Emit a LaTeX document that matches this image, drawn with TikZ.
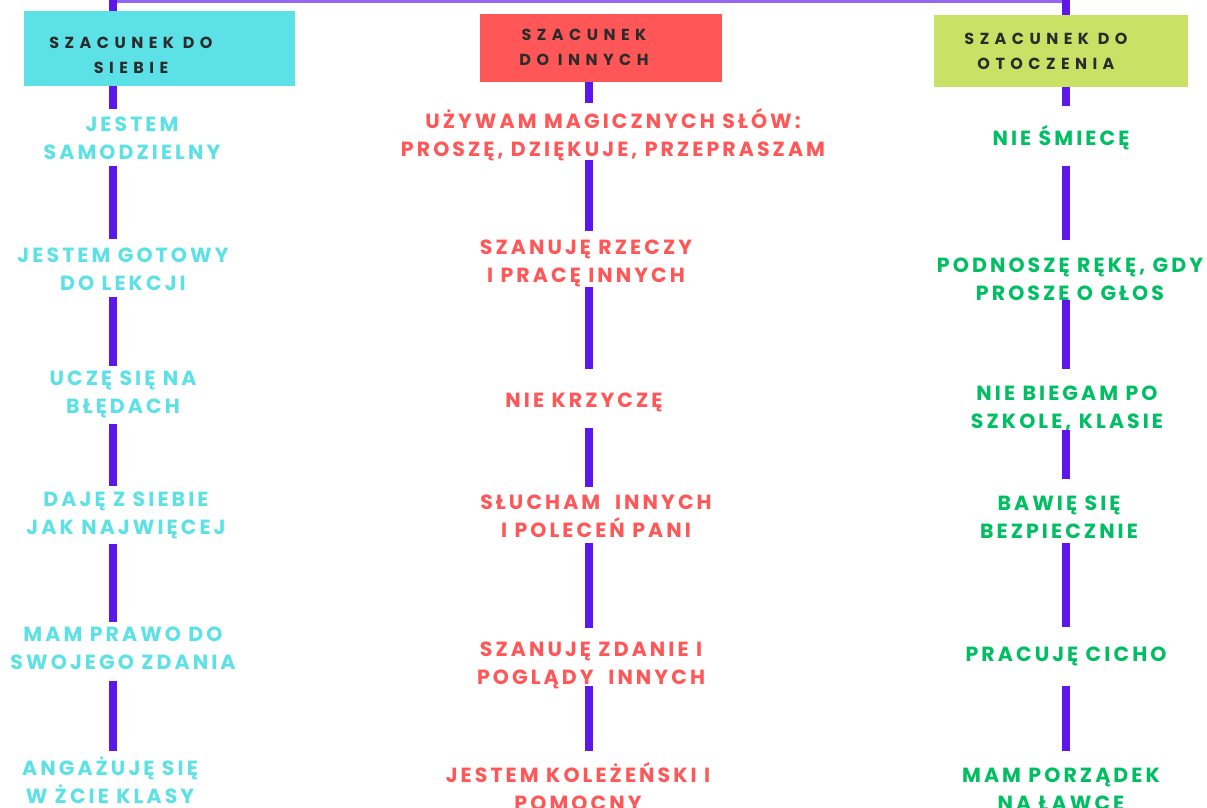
\documentclass[tikz,border=0pt]{standalone}
\usepackage{fontspec}
\newfontfamily\itemfont[LetterSpace=15]{Poppins}
\newfontfamily\boxfont[LetterSpace=34]{Poppins}
\newcommand\oneline[1]{\smash{#1}}
\definecolor{cy}{HTML}{5CE1E6}
\definecolor{rd}{HTML}{FF5757}
\definecolor{gn}{HTML}{00BF63}
\definecolor{lime}{HTML}{C9E265}
\definecolor{vio}{HTML}{5E17EB}
\definecolor{viol}{HTML}{9566F0}
\definecolor{ink}{HTML}{2B2B2B}
\tikzset{
  seg/.style={line width=7.5pt, draw=vio},
  topline/.style={line width=3pt, draw=viol},
  box/.style={rectangle, inner sep=0pt, draw=none},
  boxlabel/.style={align=center, inner sep=0pt, text=ink, font=\boxfont\bfseries\fontsize{16}{25}\selectfont},
  item/.style={align=center, inner sep=0pt, font=\itemfont\bfseries\fontsize{20.5}{28}\selectfont},
  itemL/.style={item, text=cy},
  itemM/.style={item, text=rd},
  itemR/.style={item, text=gn},
}
\begin{document}
\begin{tikzpicture}[x=1pt,y=-1pt]
\useasboundingbox (0,0) rectangle (1207,808);
\fill[white] (0,0) rectangle (1207,808);
\coordinate (cl) at (113,0);
\coordinate (cm) at (589,0);
\coordinate (cr) at (1066,0);
\coordinate (topL) at (113,1.5);
\coordinate (topR) at (1066,1.5);
% header boxes
\node[box, fill=cy, minimum width=271pt, minimum height=75pt] (bL) at (159.5,48.5) {};
\node[box, fill=rd, minimum width=242pt, minimum height=68pt] (bM) at (601,48) {};
\node[box, fill=lime, minimum width=254pt, minimum height=72pt] (bR) at (1061,51) {};
\node[boxlabel] (tL) at (131,61) {\oneline{SZACUNEK DO}\\\oneline{SIEBIE}};
\node[boxlabel] (tM) at (584,53.5) {\oneline{SZACUNEK}\\\oneline{DO INNYCH}};
\node[boxlabel] (tR) at (1046,57) {\oneline{SZACUNEK DO}\\\oneline{OTOCZENIA}};
% items left
\node[itemL] (L1) at (132,145.5) {\oneline{JESTEM}\\\oneline{SAMODZIELNY}};
\node[itemL] (L2) at (123,276.5) {\oneline{JESTEM GOTOWY}\\\oneline{DO LEKCJI}};
\node[itemL] (L3) at (123,399.5) {\oneline{UCZĘ SIĘ NA}\\\oneline{BŁĘDACH}};
\node[itemL] (L4) at (126,520.5) {\oneline{DAJĘ Z SIEBIE}\\\oneline{JAK NAJWIĘCEJ}};
\node[itemL] (L5) at (123,655.5) {\oneline{MAM PRAWO DO}\\\oneline{SWOJEGO ZDANIA}};
\node[itemL] (L6) at (110,789) {\oneline{ANGAŻUJĘ SIĘ}\\\oneline{W ŻCIE KLASY}};
% items middle
\node[itemM] (M1) at (613,142) {\oneline{UŻYWAM MAGICZNYCH SŁÓW:}\\\oneline{PROSZĘ, DZIĘKUJE, PRZEPRASZAM}};
\node[itemM] (M2) at (586,268) {\oneline{SZANUJĘ RZECZY}\\\oneline{I PRACĘ INNYCH}};
\node[itemM] (M3) at (584,407) {\oneline{NIE KRZYCZĘ}};
\node[itemM] (M4) at (596,523) {\oneline{SŁUCHAM\ \ INNYCH}\\\oneline{I POLECEŃ PANI}};
\node[itemM] (M5) at (591,670) {\oneline{SZANUJĘ ZDANIE I}\\\oneline{POGLĄDY\ \ INNYCH}};
\node[itemM] (M6) at (578,796) {\oneline{JESTEM KOLEŻEŃSKI I}\\\oneline{POMOCNY}};
% items right
\node[itemR] (R1) at (1061,145) {\oneline{NIE ŚMIECĘ}};
\node[itemR] (R2) at (1070,286) {\oneline{PODNOSZĘ RĘKĘ, GDY}\\\oneline{PROSZĘ O GŁOS}};
\node[itemR] (R3) at (1067,414.5) {\oneline{NIE BIEGAM PO}\\\oneline{SZKOLE, KLASIE}};
\node[itemR] (R4) at (1059,524.5) {\oneline{BAWIĘ SIĘ}\\\oneline{BEZPIECZNIE}};
\node[itemR] (R5) at (1066,661) {\oneline{PRACUJĘ CICHO}};
\node[itemR] (R6) at (1061,796) {\oneline{MAM PORZĄDEK}\\\oneline{NA ŁAWCE}};
% top connectors
\draw[topline] (topL) -- (topR);
\draw[seg, shorten >=-4pt] (bL.north -| cl) -- (cl |- topL);
\draw[seg, shorten >=-4pt] (bR.north -| cr) -- (cr |- topR);
% left column
\draw[seg, shorten <=0pt, shorten >=22pt] (bL.south -| cl) -- (cl |- L1.north);
\draw[seg, shorten <=6pt, shorten >=23pt] (L1.south -| cl) -- (cl |- L2.north);
\draw[seg, shorten <=6pt, shorten >=19pt] (L2.south -| cl) -- (cl |- L3.north);
\draw[seg, shorten <=10pt, shorten >=20pt] (L3.south -| cl) -- (cl |- L4.north);
\draw[seg, shorten <=9pt, shorten >=19pt] (L4.south -| cl) -- (cl |- L5.north);
\draw[seg, shorten <=11pt, shorten >=24pt] (L5.south -| cl) -- (cl |- L6.north);
% middle column
\draw[seg, shorten <=0pt, shorten >=25pt] (bM.south -| cm) -- (cm |- M1.north);
\draw[seg, shorten <=4pt, shorten >=23pt] (M1.south -| cm) -- (cm |- M2.north);
\draw[seg, shorten <=5pt, shorten >=37pt] (M2.south -| cm) -- (cm |- M3.north);
\draw[seg, shorten <=20pt, shorten >=22pt] (M3.south -| cm) -- (cm |- M4.north);
\draw[seg, shorten <=6pt, shorten >=28pt] (M4.south -| cm) -- (cm |- M5.north);
\draw[seg, shorten <=2pt, shorten >=31pt] (M5.south -| cm) -- (cm |- M6.north);
% right column
\draw[seg, shorten <=0pt, shorten >=38pt] (bR.south -| cr) -- (cr |- R1.north);
\draw[seg, shorten <=20pt, shorten >=32pt] (R1.south -| cr) -- (cr |- R2.north);
\draw[seg, shorten <=0pt, shorten >=31pt] (R2.south -| cr) -- (cr |- R3.north);
\draw[seg, shorten <=1pt, shorten >=31pt] (R3.south -| cr) -- (cr |- R4.north);
\draw[seg, shorten <=4pt, shorten >=33pt] (R4.south -| cr) -- (cr |- R5.north);
\draw[seg, shorten <=24pt, shorten >=31pt] (R5.south -| cr) -- (cr |- R6.north);
\end{tikzpicture}
\end{document}
